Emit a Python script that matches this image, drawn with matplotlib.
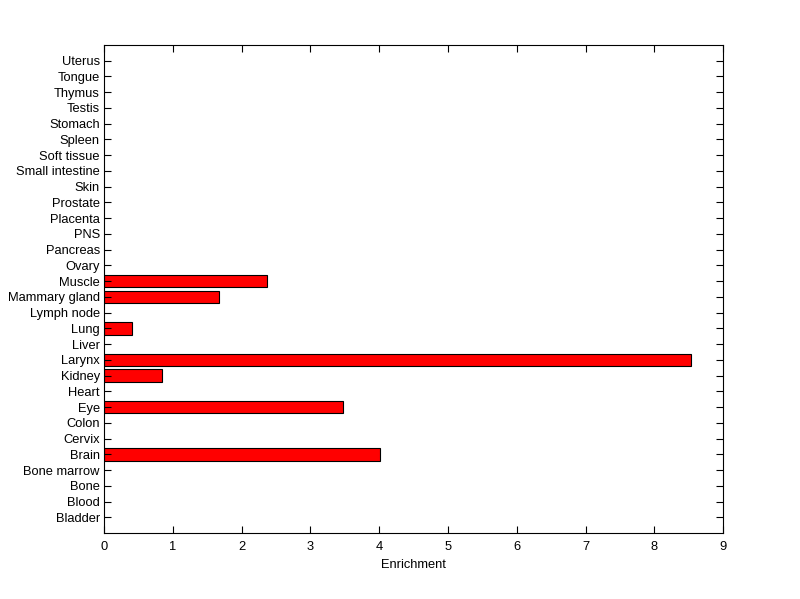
import matplotlib
matplotlib.use("Agg")
import matplotlib.pyplot as plt
import numpy as np

# tissues, bottom to top
tissues = ["Bladder", "Blood", "Bone", "Bone marrow", "Brain", "Cervix", "Colon",
           "Eye", "Heart", "Kidney", "Larynx", "Liver", "Lung", "Lymph node",
           "Mammary gland", "Muscle", "Ovary", "Pancreas", "PNS", "Placenta",
           "Prostate", "Skin", "Small intestine", "Soft tissue", "Spleen",
           "Stomach", "Testis", "Thymus", "Tongue", "Uterus"]
enrichment = [0, 0, 0, 0, 4.01, 0, 0,
              3.48, 0, 0.84, 8.53, 0, 0.41, 0,
              1.67, 2.37, 0, 0, 0, 0,
              0, 0, 0, 0, 0,
              0, 0, 0, 0, 0]
xticks = [0, 1, 2, 3, 4, 5, 6, 7, 8, 9]

plt.rcParams['font.family'] = ['Liberation Sans', 'DejaVu Sans']

fig = plt.figure(figsize=(8, 5.99), dpi=100)
ax = fig.add_axes([0.13, 0.110, 0.774, 0.815])

pos = np.arange(1, len(tissues) + 1)
vals = np.array(enrichment)
mask = vals > 0
ax.barh(pos[mask], vals[mask], height=0.8, color='red', edgecolor='black', linewidth=0.8)

ax.set_xlim(0, 9)
ax.set_ylim(0, 31)
ax.set_xticks(xticks)
ax.set_yticks(pos)
ax.set_yticklabels(tissues)
ax.set_xlabel("Enrichment", fontsize=9.3, labelpad=4)
ax.tick_params(direction='in', length=5, width=0.8, labelsize=9.3,
               top=True, right=True)
ax.tick_params(axis='x', pad=6)
ax.tick_params(axis='y', pad=3)
for s in ax.spines.values():
    s.set_linewidth(0.8)

fig.savefig("out.png", dpi=100)
